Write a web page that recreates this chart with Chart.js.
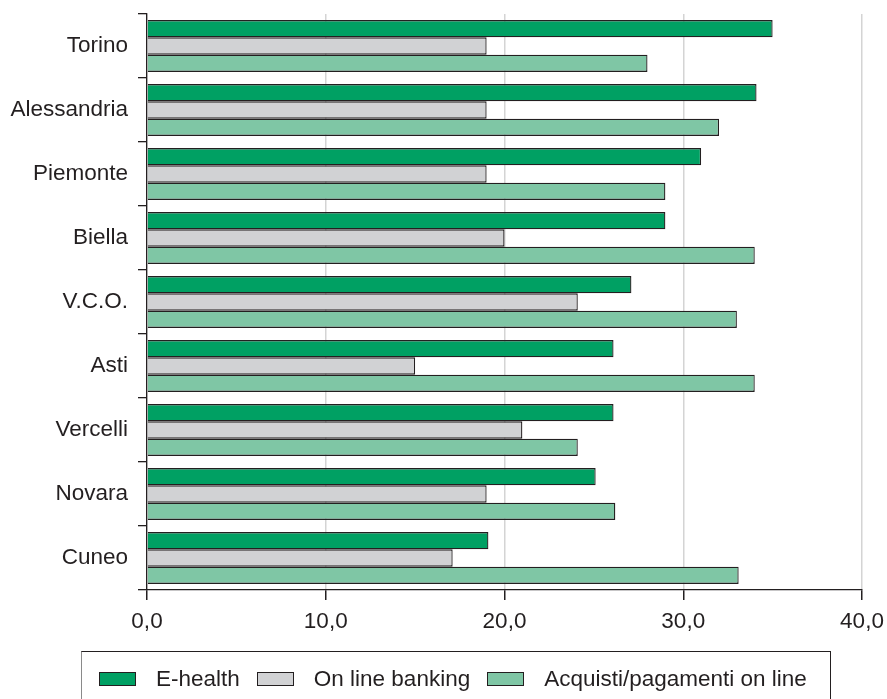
<!DOCTYPE html>
<html>
<head>
<meta charset="utf-8">
<title>E-health, on line banking, acquisti</title>
<script src="https://cdn.jsdelivr.net/npm/chart.js@4/dist/chart.umd.min.js"></script>
<style>
  html, body { margin: 0; padding: 0; background: #fff; overflow: hidden; }
  #wrap { position: relative; width: 887px; height: 699px; overflow: hidden; }
  #chart { position: absolute; left: 0; top: 0; }
  #legend {
    position: absolute; left: 81px; top: 651px; width: 750px; height: 54px;
    border: 1.3px solid #231f20; border-left-color: #8a8a8a;
    box-sizing: border-box;
    display: flex; align-items: center;
    font-family: 'Liberation Sans', Arial, sans-serif; font-size: 22.5px; color: #231f20;
    padding-left: 17px; padding-top: 1px;
  }
  #legend .item { display: flex; align-items: center; margin-right: 17px; white-space: nowrap; }
  #legend .swatch { width: 37px; height: 14px; box-sizing: border-box; border: 1.3px solid #231f20; margin-right: 20px; }
</style>
</head>
<body>
<div id="wrap">
  <canvas id="chart" width="887" height="699"></canvas>
  <div id="legend"></div>
</div>
<script>
// province list, top to bottom
var provinces = ["Torino", "Alessandria", "Piemonte", "Biella", "V.C.O.", "Asti", "Vercelli", "Novara", "Cuneo"];

// percentages per service
var eHealth        = [35.0, 34.1, 31.0, 29.0, 27.1, 26.1, 26.1, 25.1, 19.1];
var onlineBanking  = [19.0, 19.0, 19.0, 20.0, 24.1, 15.0, 21.0, 19.0, 17.1];
var acquistiOnline = [28.0, 32.0, 29.0, 34.0, 33.0, 34.0, 24.1, 26.2, 33.1];

var xTicks = [0, 10, 20, 30, 40];

var ink = "#231f20";
var font = { family: "'Liberation Sans', Arial, sans-serif", size: 22.5 };

// x labels with decimal comma
function commaLabel(v) {
  return Number(v).toFixed(1).replace(".", ",");
}

var ctx = document.getElementById("chart");
var myBarChart = new Chart(ctx, {
  type: "bar",
  data: {
    labels: provinces,
    datasets: [
      {
        label: "E-health",
        data: eHealth,
        backgroundColor: "#00a063",
        borderColor: ink,
        borderWidth: 1.3
      },
      {
        label: "On line banking",
        data: onlineBanking,
        backgroundColor: "#d1d2d4",
        borderColor: ink,
        borderWidth: 1.3
      },
      {
        label: "Acquisti/pagamenti on line",
        data: acquistiOnline,
        backgroundColor: "#7fc6a5",
        borderColor: ink,
        borderWidth: 1.3
      }
    ]
  },
  options: {
    indexAxis: "y",
    responsive: false,
    animation: false,
    layout: { padding: { top: 14, right: 25, bottom: 63, left: 0 } },
    datasets: {
      bar: { categoryPercentage: 0.81, barPercentage: 1.0 }
    },
    scales: {
      x: {
        min: 0,
        max: 40,
        afterBuildTicks: function(scale) {
          scale.ticks = xTicks.map(function(v) { return { value: v }; });
        },
        afterFit: function(scale) {
          scale.height = 46;
          scale.paddingLeft = 0;
          scale.paddingRight = 0;
        },
        grid: {
          color: "#d4d4d4",
          lineWidth: 1.5,
          tickColor: ink,
          tickLength: 10,
          drawTicks: true
        },
        border: { display: true, color: ink, width: 1.3 },
        ticks: {
          color: ink,
          font: font,
          padding: 8,
          callback: function(v) { return commaLabel(v); }
        }
      },
      y: {
        afterFit: function(scale) {
          scale.width = 147;
          scale.paddingTop = 0;
          scale.paddingBottom = 0;
        },
        grid: {
          offset: true,
          drawOnChartArea: false,
          drawTicks: true,
          tickLength: 9,
          color: ink,
          lineWidth: 1.3
        },
        border: { display: true, color: ink, width: 1.3 },
        ticks: { color: ink, font: font, padding: 10 }
      }
    },
    plugins: {
      legend: { display: false },
      tooltip: { enabled: false }
    }
  }
});

// legend row built from the chart's datasets
var legendEl = document.getElementById("legend");
myBarChart.data.datasets.forEach(function(ds) {
  var item = document.createElement("div");
  item.className = "item";
  var sw = document.createElement("span");
  sw.className = "swatch";
  sw.style.background = ds.backgroundColor;
  var txt = document.createElement("span");
  txt.textContent = ds.label;
  item.appendChild(sw);
  item.appendChild(txt);
  legendEl.appendChild(item);
});
</script>
</body>
</html>
